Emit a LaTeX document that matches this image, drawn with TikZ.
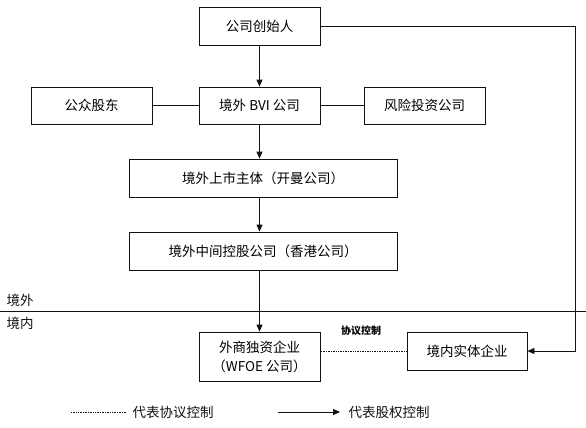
\documentclass[tikz,border=0pt]{standalone}
\usepackage{fontspec}
\newfontfamily\cjk{Noto Sans CJK SC}
\usepackage{xcolor}
\usepackage{tikz}
\usetikzlibrary{arrows.meta,positioning,calc}
\definecolor{ink}{HTML}{111111}
\tikzset{
  >={Triangle[length=7pt,width=6pt]},
  flow/.style={->,draw=ink,line width=.8pt},
  link/.style={draw=ink,line width=.8pt},
  pact/.style={draw=ink,line width=.7pt,dash pattern=on .8pt off .9pt},
  firm/.style={draw=ink,line width=.8pt,fill=white,align=center,
               inner sep=0pt,font=\cjk\fontsize{13.5}{19}\selectfont},
  labeltext/.style={font=\cjk\fontsize{13.5}{15}\selectfont,text=ink},
}
\begin{document}
\begin{tikzpicture}[x=1pt,y=-1pt]
  \useasboundingbox (0,0) rectangle (586,428);

  % ownership chain
  \node[firm,minimum width=121pt,minimum height=38pt] (founder) at (259.5,26) {公司创始人};
  \node[firm,minimum width=121pt,minimum height=37pt] (bvi) at (259.5,105.5) {境外 BVI 公司};
  \node[firm,minimum width=121pt,minimum height=37pt] (public) at (91.5,105.5) {公众股东};
  \node[firm,minimum width=121pt,minimum height=37pt] (vc) at (424.5,105.5) {风险投资公司};
  \node[firm,minimum width=268pt,minimum height=38pt] (cayman) at (263,178) {境外上市主体（开曼公司）};
  \node[firm,minimum width=268pt,minimum height=38pt] (hk) at (263,251) {境外中间控股公司（香港公司）};
  \node[firm,minimum width=121pt,minimum height=49pt] (wfoe) at (259.5,356.5) {外商独资企业\\（WFOE 公司）};
  \node[firm,minimum width=120pt,minimum height=38pt] (onshore) at (467,351) {境内实体企业};

  \draw[flow] (founder) -- (bvi);
  \draw[link] (public) -- (bvi);
  \draw[link] (bvi) -- (vc);
  \draw[flow] (bvi.south) -- (bvi.south |- cayman.north);
  \draw[flow] (bvi.south |- cayman.south) -- (bvi.south |- hk.north);
  \draw[flow] (bvi.south |- hk.south) -- (wfoe.north);

  \coordinate (edge) at (575,26);
  \draw[flow] (founder.east) -- (edge) |- (onshore.east);
  \draw[pact] (onshore.west) -- (onshore.west -| wfoe.east);
  \node[font=\cjk\bfseries\fontsize{10}{12}\selectfont] (pactlbl) at (361,331) {协议控制};

  % border
  \draw[link] (0,311) -- (586,311);
  \node[labeltext,anchor=west] (abroad) at (3,300) {境外};
  \node[labeltext,anchor=west] (home) at (3,323) {境内};

  % legend
  \coordinate (k1) at (71,412);
  \coordinate (k2) at (127,412);
  \coordinate (k3) at (278,412);
  \coordinate (k4) at (340,412);
  \draw[pact] (k1) -- (k2);
  \node[labeltext,anchor=west] (keypact) at (129,412) {代表协议控制};
  \draw[flow] (k3) -- (k4);
  \node[labeltext,anchor=west] (keyshare) at (345,412) {代表股权控制};
\end{tikzpicture}
\end{document}
